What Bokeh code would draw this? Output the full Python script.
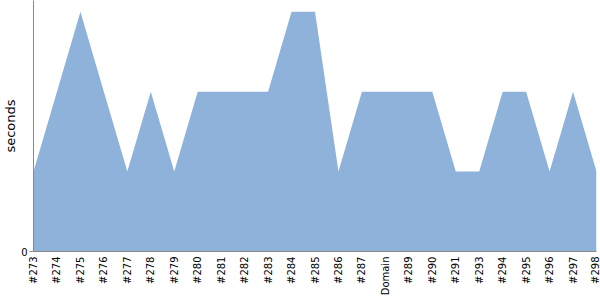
import math
from bokeh.plotting import figure
from bokeh.models import Range1d, FixedTicker
from bokeh.embed import file_html
from bokeh.resources import INLINE

builds = ["#273", "#274", "#275", "#276", "#277", "#278", "#279", "#280", "#281",
          "#282", "#283", "#284", "#285", "#286", "#287", "Domain", "#289", "#290",
          "#291", "#293", "#294", "#295", "#296", "#297", "#298"]
seconds = [1, 2, 3, 2, 1, 2, 1, 2, 2, 2, 2, 3, 3, 1, 2, 2, 2, 2, 1, 1, 2, 2, 1, 2, 1]

xs = list(range(len(builds)))

p = figure(width=600, height=300, output_backend="svg", toolbar_location=None,
           x_range=Range1d(0, len(builds) - 1), y_range=Range1d(0, 3.14),
           min_border_left=33, min_border_right=4, min_border_top=0, min_border_bottom=49)

p.varea(x=xs, y1=[0] * len(xs), y2=seconds, fill_color="#8fb2da", fill_alpha=1.0)

p.outline_line_color = None
p.xgrid.grid_line_color = None
p.ygrid.grid_line_color = None
p.background_fill_color = "white"
p.border_fill_color = "white"

p.xaxis.ticker = FixedTicker(ticks=xs)
p.xaxis.major_label_overrides = {i: b for i, b in enumerate(builds)}
p.xaxis.major_label_orientation = math.pi / 2
p.xaxis.major_label_text_font = "DejaVu Sans"
p.xaxis.major_label_text_font_size = "10px"
p.xaxis.major_label_text_color = "black"
p.xaxis.major_tick_line_color = None
p.xaxis.major_tick_in = 0
p.xaxis.major_tick_out = 0
p.xaxis.minor_tick_line_color = None
p.xaxis.axis_line_color = "#888888"
p.xaxis.major_label_standoff = 5

p.yaxis.ticker = FixedTicker(ticks=[0])
p.yaxis.major_label_text_font = "DejaVu Sans"
p.yaxis.major_label_text_font_size = "10px"
p.yaxis.major_label_text_color = "black"
p.yaxis.major_tick_in = 0
p.yaxis.major_tick_out = 4
p.yaxis.major_tick_line_color = "#888888"
p.yaxis.minor_tick_line_color = None
p.yaxis.axis_line_color = "#888888"
p.yaxis.major_label_standoff = 2
p.yaxis.axis_label = "seconds"
p.yaxis.axis_label_text_font = "DejaVu Sans"
p.yaxis.axis_label_text_font_size = "13px"
p.yaxis.axis_label_text_font_style = "normal"
p.yaxis.axis_label_text_color = "black"
p.yaxis.axis_label_standoff = 0

open("out.html", "w").write(file_html(p, INLINE))
